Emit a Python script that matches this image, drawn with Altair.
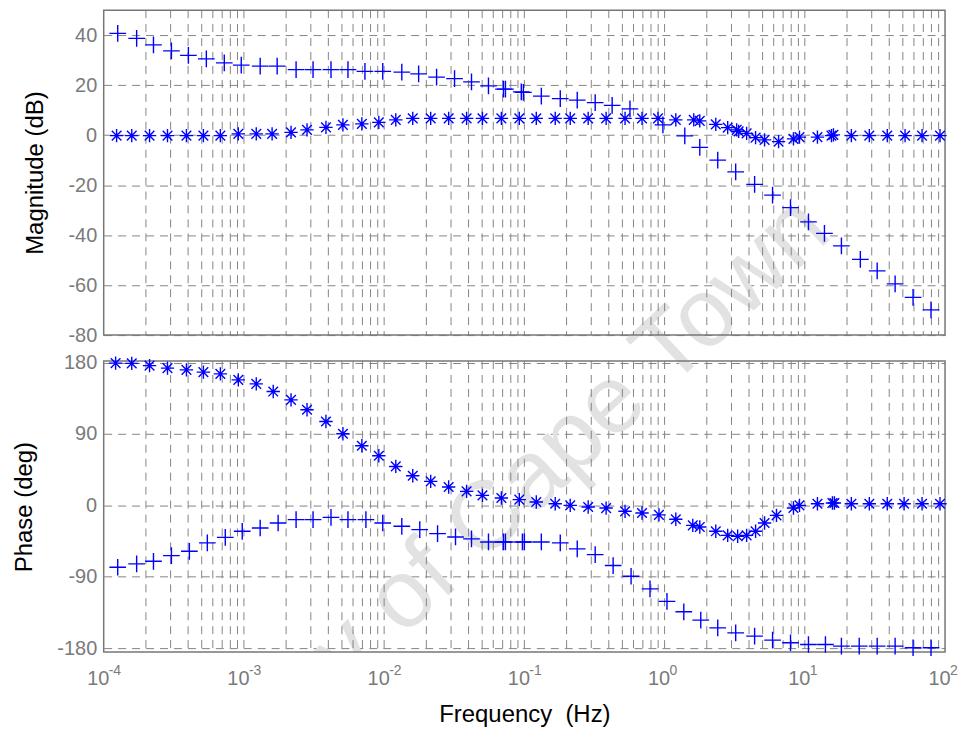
import altair as alt
import pandas as pd

# ---------------- data ----------------
# log10(frequency / Hz) and values
mag_plus_logf = [-3.90, -3.765, -3.645, -3.517, -3.396, -3.268, -3.14, -3.019, -2.884, -2.763,
                 -2.628, -2.507, -2.379, -2.258, -2.137, -2.01, -1.874, -1.754, -1.626, -1.498,
                 -1.377, -1.256, -1.149, -1.135, -1.022, -1.007, -0.879, -0.744, -0.623, -0.495,
                 -0.374, -0.247, -0.012, 0.144, 0.251, 0.379, 0.507, 0.642, 0.77, 0.898,
                 1.026, 1.14, 1.261, 1.396, 1.516, 1.644, 1.772, 1.90]
mag_plus_db = [40.7, 38.7, 36.1, 33.7, 31.9, 30.5, 28.9, 28.0, 27.6, 27.6,
               26.2, 26.2, 26.2, 26.2, 25.5, 25.5, 25.2, 24.5, 23.2, 22.6,
               21.3, 19.7, 18.4, 18.4, 17.3, 17.1, 15.6, 14.6, 14.0, 13.0,
               11.9, 10.5, 4.1, -0.3, -4.9, -10.0, -14.7, -19.7, -24.0, -29.0,
               -34.7, -39.3, -44.3, -49.7, -54.3, -59.5, -64.9, -69.9]

mag_star_logf = [-3.908, -3.80, -3.673, -3.545, -3.41, -3.289, -3.168, -3.04, -2.912, -2.799,
                 -2.664, -2.55, -2.415, -2.294, -2.159, -2.038, -1.917, -1.796, -1.668, -1.54,
                 -1.412, -1.299, -1.164, -1.036, -0.915, -0.78, -0.673, -0.545, -0.417, -0.282,
                 -0.161, -0.047, 0.08, 0.208, 0.251, 0.365, 0.45, 0.514, 0.528, 0.585,
                 0.649, 0.713, 0.813, 0.919, 0.962, 1.09, 1.19, 1.204, 1.332, 1.46,
                 1.588, 1.715, 1.836, 1.964]
mag_star_db = [-0.2, -0.2, -0.2, -0.2, -0.2, -0.2, -0.2, 0.5, 0.5, 0.5,
               1.1, 2.1, 3.1, 4.1, 4.5, 5.1, 6.1, 6.7, 6.7, 6.7,
               6.7, 6.7, 6.7, 6.7, 6.7, 6.7, 6.7, 6.7, 6.7, 6.7,
               6.7, 6.7, 6.1, 6.1, 5.7, 4.3, 3.0, 2.1, 1.5, 0.7,
               -1.0, -1.9, -2.6, -1.5, -0.8, -0.8, -0.2, 0.1, -0.2, -0.2,
               -0.2, -0.2, -0.2, -0.2]

ph_star_logf = [-3.915, -3.80, -3.673, -3.545, -3.41, -3.289, -3.168, -3.04, -2.912, -2.791,
                -2.664, -2.55, -2.415, -2.294, -2.159, -2.038, -1.917, -1.796, -1.668, -1.54,
                -1.412, -1.299, -1.164, -1.036, -0.915, -0.78, -0.673, -0.545, -0.417, -0.282,
                -0.161, -0.04, 0.08, 0.201, 0.251, 0.365, 0.45, 0.521, 0.585, 0.649,
                0.713, 0.798, 0.919, 0.962, 1.09, 1.197, 1.211, 1.332, 1.46, 1.588,
                1.708, 1.836, 1.964]
ph_star_deg = [179.3, 179.0, 176.2, 173.0, 170.8, 168.0, 165.8, 158.2, 153.2, 143.5,
               133.0, 120.5, 105.7, 90.3, 75.2, 62.6, 49.1, 37.4, 30.2, 23.2,
               17.6, 12.6, 9.3, 7.2, 4.2, 2.1, 0.0, -2.1, -3.4, -7.5,
               -9.6, -12.0, -17.5, -25.2, -27.2, -32.7, -37.8, -39.0, -37.8, -32.7,
               -22.2, -12.6, -3.3, 0.0, 2.1, 3.0, 3.0, 2.1, 2.1, 2.1,
               2.1, 2.1, 2.1]

ph_plus_logf = [-3.90, -3.765, -3.645, -3.517, -3.389, -3.261, -3.133, -3.012, -2.884, -2.756,
                -2.628, -2.507, -2.379, -2.258, -2.13, -2.01, -1.874, -1.746, -1.619, -1.491,
                -1.377, -1.256, -1.149, -1.135, -1.014, -1.0, -0.879, -0.744, -0.623, -0.495,
                -0.367, -0.239, -0.104, 0.017, 0.137, 0.258, 0.379, 0.507, 0.642, 0.77,
                0.898, 1.026, 1.147, 1.261, 1.388, 1.516, 1.644, 1.772, 1.90]
ph_plus_deg = [-78.0, -73.8, -70.5, -63.3, -57.9, -47.3, -40.3, -32.7, -28.5, -22.2,
               -18.0, -18.0, -15.1, -18.0, -18.0, -22.2, -26.4, -30.6, -35.6, -39.8,
               -42.3, -46.1, -46.1, -46.1, -46.1, -46.1, -46.1, -47.3, -54.9, -62.1,
               -75.9, -89.4, -105.3, -121.0, -134.2, -144.7, -154.4, -160.7, -164.9, -169.9,
               -173.2, -175.4, -175.4, -177.5, -177.5, -177.5, -177.5, -179.5, -179.5]

decade_values = [1e-4, 1e-3, 1e-2, 1e-1, 1e0, 1e1, 1e2]
decade_exponents = ["-4", "-3", "-2", "-1", "0", "1", "2"]
mag_ticks = [-80, -60, -40, -20, 0, 20, 40]
phase_ticks = [-180, -90, 0, 90, 180]
watermark = "University of Cape Town"

# ---------------- layout constants ----------------
W = 844
TOP_H = 326
BOT_Y0 = 352
H = 644
FONT = "Liberation Sans"
BLUE = "#0000ff"
GRID = "#858585"
LABEL = "#7a7a7a"
PLUS = "M-1,0L1,0M0,-1L0,1"
STAR = "M-1,0L1,0M0,-1L0,1M-0.72,-0.72L0.72,0.72M-0.72,0.72L0.72,-0.72"


def frame(logf, vals, name):
    return pd.DataFrame({"f": [10 ** e for e in logf], "v": vals, "s": name})


mag_df = pd.concat([frame(mag_plus_logf, mag_plus_db, "plus"),
                    frame(mag_star_logf, mag_star_db, "star")])
ph_df = pd.concat([frame(ph_plus_logf, ph_plus_deg, "plus"),
                   frame(ph_star_logf, ph_star_deg, "star")])

minor = [m * 10 ** k for k in range(-4, 2) for m in range(1, 10)][1:]
grid_df = pd.DataFrame({"f": minor})
dec_df = pd.DataFrame({"f": decade_values, "e": decade_exponents})

x_scale = alt.Scale(type="log", domain=[1e-4, 1e2], nice=False)

shape_enc = alt.Shape("s:N", scale=alt.Scale(domain=["plus", "star"], range=[PLUS, STAR]), legend=None)
size_enc = alt.Size("s:N", scale=alt.Scale(domain=["plus", "star"], range=[280, 180]), legend=None)

x_axis = alt.Axis(values=decade_values, labelExpr="'10'", grid=False, ticks=False, domain=False,
                  labelPadding=16, labelOffset=-6, labelFontSize=20, labelColor=LABEL, labelFont=FONT,
                  labelFlush=False, labelOverlap=False, orient="bottom",
                  title="Frequency\u00a0 (Hz)", titleFontSize=24, titleFont=FONT, titlePadding=15,
                  titleFontWeight="normal", titleColor="black")


def xenc():
    return alt.X("f:Q", scale=x_scale, axis=x_axis)


def y_axis(vals, title):
    return alt.Axis(values=vals, labelExpr="'' + datum.value", orient="left", grid=True,
                    gridDash=[8, 6], gridColor=GRID, gridWidth=1, gridOpacity=1,
                    ticks=False, domain=False, labelPadding=7, labelFontSize=20,
                    labelColor=LABEL, labelFont=FONT, title=title, titleFontSize=24,
                    titleFont=FONT, titlePadding=20, titleColor="black", titleFontWeight="normal")


one = alt.Data(values=[{"t": watermark}])

wm = alt.Chart(one).mark_text(angle=317, fontSize=97, color="#e2e2e2", clip=True, font=FONT,
                              align="center", baseline="middle").encode(
    text="t:N", x=alt.value(331), y=alt.value(561))

vgrid_top = alt.Chart(grid_df).mark_rule(strokeDash=[8, 6], color=GRID, strokeWidth=1).encode(
    x=xenc(), y=alt.value(0), y2=alt.value(TOP_H))
vgrid_bot = alt.Chart(grid_df).mark_rule(strokeDash=[8, 6], color=GRID, strokeWidth=1).encode(
    x=xenc(), y=alt.value(BOT_Y0), y2=alt.value(H))

box_top = alt.Chart(one).mark_rect(filled=False, stroke="#777777", strokeWidth=1.5).encode(
    x=alt.value(0), x2=alt.value(W), y=alt.value(0), y2=alt.value(TOP_H))
box_bot = alt.Chart(one).mark_rect(filled=False, stroke="#777777", strokeWidth=1.5).encode(
    x=alt.value(0), x2=alt.value(W), y=alt.value(BOT_Y0), y2=alt.value(H))

mag = alt.Chart(mag_df).mark_point(filled=False, strokeWidth=1.4, color=BLUE, opacity=1).encode(
    x=xenc(),
    y=alt.Y("v:Q", scale=alt.Scale(domain=[-80, 50], range=[TOP_H, 0], nice=False, zero=False),
            axis=y_axis(mag_ticks, "Magnitude (dB)")),
    shape=shape_enc, size=size_enc)

ph = alt.Chart(ph_df).mark_point(filled=False, strokeWidth=1.4, color=BLUE, opacity=1).encode(
    x=xenc(),
    y=alt.Y("v:Q", scale=alt.Scale(domain=[-185, 182], range=[H, BOT_Y0], nice=False, zero=False),
            axis=y_axis(phase_ticks, "Phase (deg)")),
    shape=shape_enc, size=size_enc)

exps = alt.Chart(dec_df).mark_text(align="left", baseline="alphabetic", dx=5, fontSize=14,
                                   color=LABEL, font=FONT).encode(
    x=xenc(), y=alt.value(667), text="e:N")

chart = alt.layer(wm, vgrid_top, vgrid_bot, box_top, box_bot, mag, ph, exps).resolve_scale(
    y="independent").properties(
    width=W, height=H, padding={"left": 4, "top": 0, "right": 0, "bottom": 0},
    background="white").configure_view(stroke=None)

chart.save("out.html", embed_options={"renderer": "svg", "actions": False})
